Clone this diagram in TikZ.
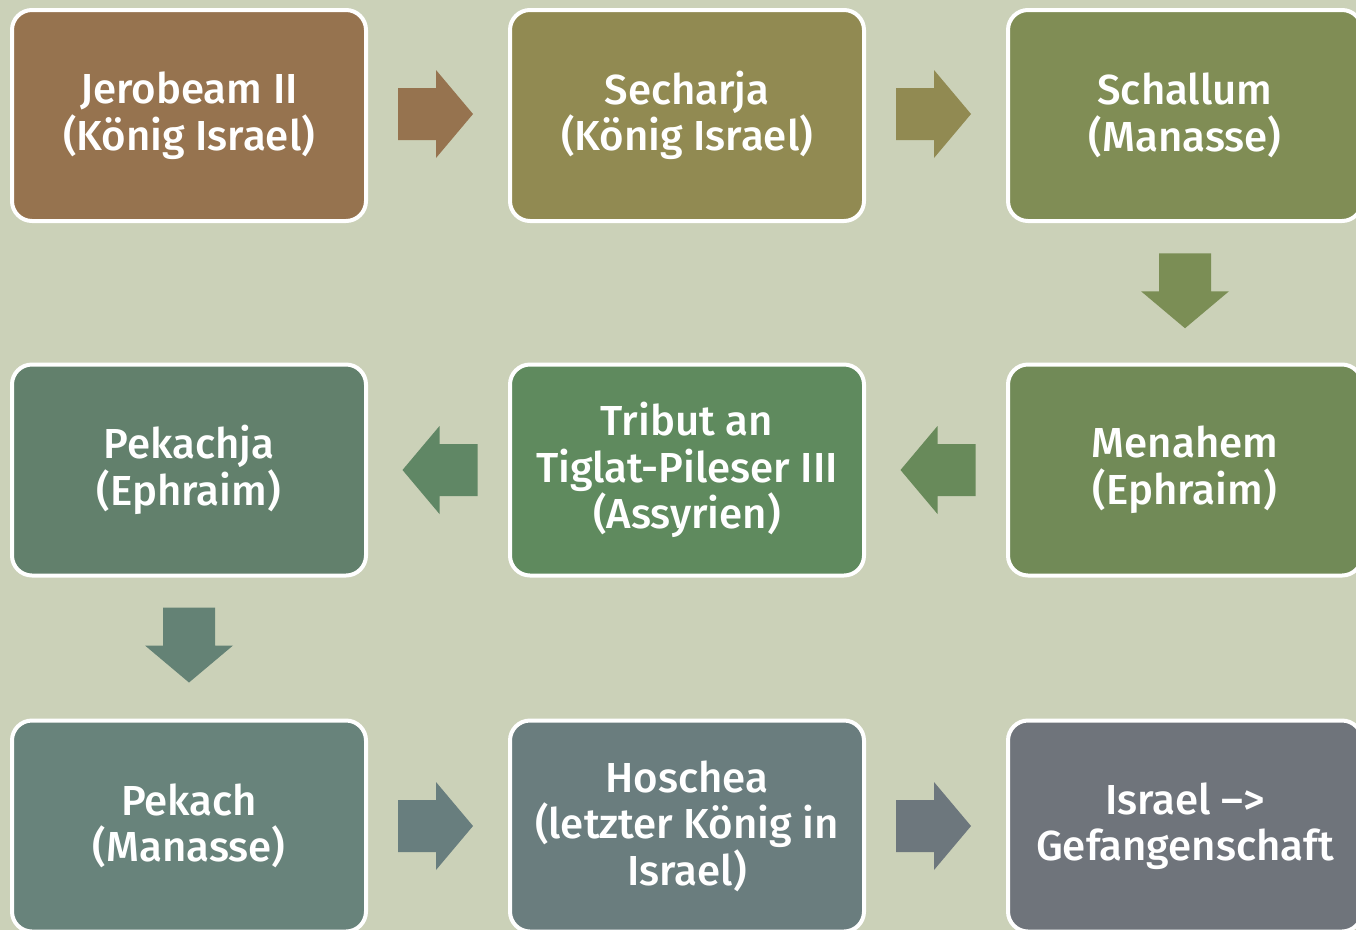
\documentclass[tikz,border=0pt]{standalone}
\usepackage{fontspec}
\setmainfont{Fira Sans}[UprightFont=* Medium]
\usetikzlibrary{calc}
\definecolor{bg}{HTML}{CBD1B8}
\definecolor{cA}{HTML}{96734F}
\definecolor{cB}{HTML}{918A52}
\definecolor{cC}{HTML}{808D55}
\definecolor{cCD}{HTML}{7B8E55}
\definecolor{cD}{HTML}{718A57}
\definecolor{cDE}{HTML}{688A5A}
\definecolor{cE}{HTML}{5F8A5E}
\definecolor{cEF}{HTML}{608765}
\definecolor{cF}{HTML}{62806C}
\definecolor{cFG}{HTML}{648275}
\definecolor{cG}{HTML}{68837B}
\definecolor{cGH}{HTML}{687E7E}
\definecolor{cH}{HTML}{6A7D7E}
\definecolor{cHI}{HTML}{6D777D}
\definecolor{cI}{HTML}{6F747B}
\tikzset{
  box/.style={draw=white, line width=4pt, rounded corners=20pt,
    minimum width=354pt, minimum height=211pt, text=white, align=center,
    font=\fontsize{42}{46.5}\selectfont, inner sep=0pt},
  blockarrow/.pic={\fill (-37.5,-26) -- (0.5,-26) -- (0.5,-44) -- (37.5,0) -- (0.5,44) -- (0.5,26) -- (-37.5,26) -- cycle;}
}
\begin{document}
\begin{tikzpicture}[x=1pt,y=-1pt]
\useasboundingbox (0,0) rectangle (1356,930);
\clip (0,0) rectangle (1356,930);
\fill[bg] (0,0) rectangle (1356,930);
\node[box, fill=cA] (n1) at (189,115.5) {Jerobeam II\\(König Israel)};
\node[box, fill=cB] (n2) at (687,115.5) {Secharja\\(König Israel)};
\node[box, fill=cC] (n3) at (1185,115.5) {Schallum\\(Manasse)};
\node[box, fill=cD] (n4) at (1185,470) {Menahem\\(Ephraim)};
\node[box, fill=cE] (n5) at (687,470) {Tribut an\\Tiglat-Pileser III\\(Assyrien)};
\node[box, fill=cF] (n6) at (189,470) {Pekachja\\(Ephraim)};
\node[box, fill=cG] (n7) at (189,826) {Pekach\\(Manasse)};
\node[box, fill=cH] (n8) at (687,826) {Hoschea\\(letzter König in\\Israel)};
\node[box, fill=cI] (n9) at (1185,826) {Israel –>\\Gefangenschaft};
\path[fill=cA] ($(n1.east)!0.5!(n2.west)+(-2.5,-1.5)$) pic {blockarrow};
\path[fill=cB] ($(n2.east)!0.5!(n3.west)+(-2.5,-1.5)$) pic {blockarrow};
\path[fill=cCD] ($(n3.south)!0.5!(n4.north)+(0,-2)$) pic[rotate=-90] {blockarrow};
\path[fill=cDE] ($(n4.west)!0.5!(n5.east)+(2,0)$) pic[rotate=180] {blockarrow};
\path[fill=cEF] ($(n5.west)!0.5!(n6.east)+(2,0)$) pic[rotate=180] {blockarrow};
\path[fill=cFG] ($(n6.south)!0.5!(n7.north)+(0,-3)$) pic[rotate=-90] {blockarrow};
\path[fill=cGH] ($(n7.east)!0.5!(n8.west)+(-2.5,0)$) pic {blockarrow};
\path[fill=cHI] ($(n8.east)!0.5!(n9.west)+(-2.5,0)$) pic {blockarrow};
\end{tikzpicture}
\end{document}
